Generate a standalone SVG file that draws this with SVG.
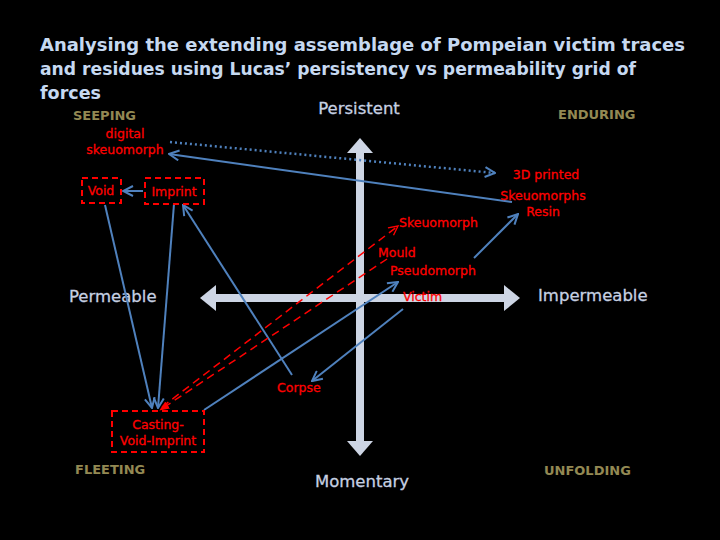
<svg xmlns="http://www.w3.org/2000/svg" width="720" height="540" viewBox="0 0 720 540">
<defs>
<style>
.title{font-family:"DejaVu Sans","Liberation Sans",sans-serif;font-size:18.5px;font-weight:bold;fill:#C6D9F1}
.axis{font-family:"DejaVu Sans","Liberation Sans",sans-serif;font-size:16.5px;fill:#C6D0E2;stroke:#C6D0E2;stroke-width:0.3}
.corner{font-family:"DejaVu Sans","Liberation Sans",sans-serif;font-size:13px;font-weight:bold;fill:#938953}
.lbl{font-family:"DejaVu Sans","Liberation Sans",sans-serif;font-size:12.5px;fill:#FF0000;stroke:#FF0000;stroke-width:0.3}
.box{fill:none;stroke:#FF0000;stroke-width:2;stroke-dasharray:6,4}
.blue{fill:none;stroke:#4F81BD;stroke-width:2}
.dot{fill:none;stroke:#4F81BD;stroke-width:2.5;stroke-dasharray:2,3}
.red{fill:none;stroke:#FF0000;stroke-width:1.5;stroke-dasharray:8,5}
.ax{fill:#CDD5E4}
</style>
<marker id="ab" viewBox="0 0 12 12" refX="11" refY="6" markerWidth="12" markerHeight="12" markerUnits="userSpaceOnUse" orient="auto">
<path d="M1,1 L11,6 L1,11" fill="none" stroke="#4F81BD" stroke-width="2"/>
</marker>
<marker id="ar" viewBox="0 0 12 12" refX="11" refY="6" markerWidth="11" markerHeight="11" markerUnits="userSpaceOnUse" orient="auto">
<path d="M1,1 L11,6 L1,11" fill="none" stroke="#FF0000" stroke-width="1.5"/>
</marker>
<marker id="arf" viewBox="0 0 12 12" refX="11" refY="6" markerWidth="10" markerHeight="10" markerUnits="userSpaceOnUse" orient="auto">
<path d="M0,1 L12,6 L0,11 Z" fill="#FF0000"/>
</marker>
</defs>
<rect width="720" height="540" fill="#000"/>
<g id="title">
<text class="title" x="40" y="51" textLength="645" lengthAdjust="spacingAndGlyphs">Analysing the extending assemblage of Pompeian victim traces</text>
<text class="title" x="40" y="75" textLength="596" lengthAdjust="spacingAndGlyphs">and residues using Lucas’ persistency vs permeability grid of</text>
<text class="title" x="40" y="99" textLength="61" lengthAdjust="spacingAndGlyphs">forces</text>
</g>
<g id="axes">
<rect class="ax" x="356" y="152" width="8" height="290"/>
<polygon class="ax" points="347,153 360,138 373,153"/>
<polygon class="ax" points="347,441 360,456 373,441"/>
<rect class="ax" x="214" y="294" width="292" height="8"/>
<polygon class="ax" points="216,285 200,298 216,311"/>
<polygon class="ax" points="504,285 520,298 504,311"/>
</g>
<g id="axis-labels">
<text class="axis" x="359" y="114" text-anchor="middle">Persistent</text>
<text class="axis" x="362" y="487" text-anchor="middle">Momentary</text>
<text class="axis" x="69" y="302">Permeable</text>
<text class="axis" x="538" y="301">Impermeable</text>
<text class="corner" x="73" y="120">SEEPING</text>
<text class="corner" x="558" y="119">ENDURING</text>
<text class="corner" x="75" y="474">FLEETING</text>
<text class="corner" x="544" y="475">UNFOLDING</text>
</g>
<g id="connectors">
<line class="dot" x1="170" y1="142" x2="495" y2="173" marker-end="url(#ab)"/>
<line class="blue" x1="512" y1="202" x2="169" y2="154" marker-end="url(#ab)"/>
<line class="blue" x1="143" y1="191" x2="123" y2="191" marker-end="url(#ab)"/>
<line class="blue" x1="105" y1="205" x2="152" y2="408" marker-end="url(#ab)"/>
<line class="blue" x1="174" y1="204" x2="158" y2="408" marker-end="url(#ab)"/>
<line class="blue" x1="292" y1="375" x2="183" y2="205" marker-end="url(#ab)"/>
<line class="blue" x1="403" y1="309" x2="312" y2="381" marker-end="url(#ab)"/>
<line class="blue" x1="204" y1="410" x2="398" y2="282" marker-end="url(#ab)"/>
<line class="blue" x1="474" y1="258" x2="518" y2="214" marker-end="url(#ab)"/>
<line class="red" x1="162" y1="407" x2="398" y2="226" marker-end="url(#ar)"/>
<line class="red" x1="387" y1="259" x2="160" y2="410" marker-end="url(#arf)"/>
</g>
<g id="digital-skeuomorph">
<text class="lbl" x="125" y="138" text-anchor="middle">digital</text>
<text class="lbl" x="125" y="154" text-anchor="middle">skeuomorph</text>
</g>
<g id="void">
<rect class="box" x="82" y="178" width="39" height="25"/>
<text class="lbl" x="101" y="195" text-anchor="middle">Void</text>
</g>
<g id="imprint">
<rect class="box" x="145" y="178" width="59" height="26"/>
<text class="lbl" x="174" y="196" text-anchor="middle">Imprint</text>
</g>
<g id="casting">
<rect class="box" x="112" y="411" width="92" height="41"/>
<text class="lbl" x="158" y="429" text-anchor="middle">Casting-</text>
<text class="lbl" x="158" y="445" text-anchor="middle">Void-Imprint</text>
</g>
<g id="skeuomorph"><text class="lbl" x="399" y="227">Skeuomorph</text></g>
<g id="mould"><text class="lbl" x="378" y="257">Mould</text></g>
<g id="pseudomorph"><text class="lbl" x="390" y="275">Pseudomorph</text></g>
<g id="victim"><text class="lbl" x="403" y="301">Victim</text></g>
<g id="corpse"><text class="lbl" x="277" y="392">Corpse</text></g>
<g id="printed">
<text class="lbl" x="546" y="179" text-anchor="middle">3D printed</text>
<text class="lbl" x="543" y="200" text-anchor="middle">Skeuomorphs</text>
<text class="lbl" x="543" y="216" text-anchor="middle">Resin</text>
</g>
</svg>
